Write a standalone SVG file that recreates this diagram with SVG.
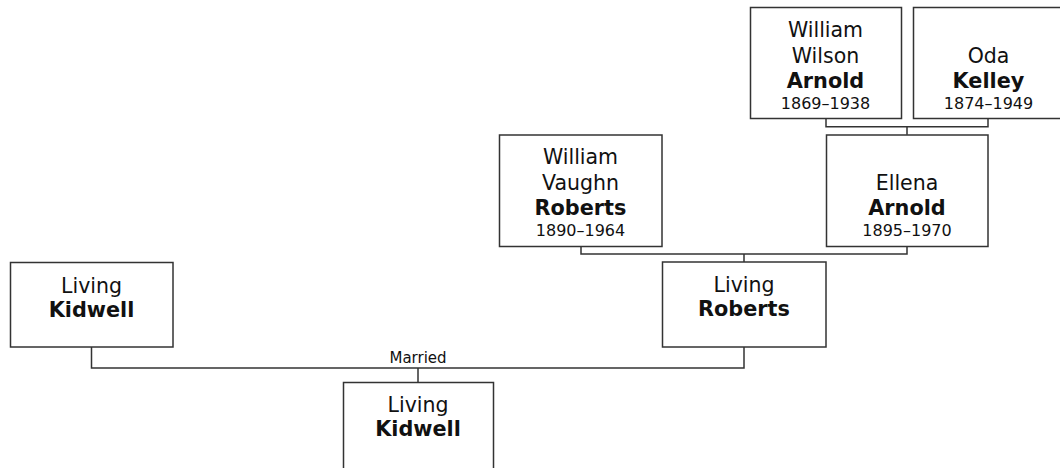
<svg xmlns="http://www.w3.org/2000/svg" width="1060" height="468" viewBox="0 0 1060 468">
<style>
.box{fill:#fff;stroke:#333;stroke-width:1.5}
.con{fill:none;stroke:#333;stroke-width:1.5}
text{font-family:"DejaVu Sans",Verdana,sans-serif;fill:#111;text-anchor:middle}
.n{font-size:20.5px}
.s{font-size:20.8px;font-weight:bold}
.d{font-size:16px}
.lbl{font-size:15px}
</style>
<rect width="1060" height="468" fill="#fff"/>
<g id="connectors">
<path class="con" d="M826,118.5V126.7H988V118.5M907,126.7V134.7"/>
<path class="con" d="M581,246.5V254H907V246.5M744,254V262"/>
<path class="con" d="M91.5,347V368H744V347M418,368V382"/>
<text class="lbl" x="418" y="363">Married</text>
</g>
<g id="william-wilson-arnold">
<rect class="box" x="750.5" y="7.5" width="151" height="111"/>
<text class="n" x="825.5" y="36.5">William</text>
<text class="n" x="825.5" y="63">Wilson</text>
<text class="s" x="825.5" y="88">Arnold</text>
<text class="d" x="825.5" y="109">1869–1938</text>
</g>
<g id="oda-kelley">
<rect class="box" x="913.5" y="7.5" width="151" height="111"/>
<text class="n" x="988.5" y="62.5">Oda</text>
<text class="s" x="988.5" y="88">Kelley</text>
<text class="d" x="988.5" y="109">1874–1949</text>
</g>
<g id="william-vaughn-roberts">
<rect class="box" x="499.5" y="135" width="162.5" height="111.5"/>
<text class="n" x="580.5" y="163.5">William</text>
<text class="n" x="580.5" y="190">Vaughn</text>
<text class="s" x="580.5" y="215">Roberts</text>
<text class="d" x="580.5" y="236">1890–1964</text>
</g>
<g id="ellena-arnold">
<rect class="box" x="826.5" y="135" width="161.5" height="111.5"/>
<text class="n" x="907" y="189.5">Ellena</text>
<text class="s" x="907" y="215">Arnold</text>
<text class="d" x="907" y="235.5">1895–1970</text>
</g>
<g id="living-kidwell-1">
<rect class="box" x="10.5" y="262.5" width="162.5" height="84.5"/>
<text class="n" x="91.5" y="292.5">Living</text>
<text class="s" x="91.5" y="316.5">Kidwell</text>
</g>
<g id="living-roberts">
<rect class="box" x="662.5" y="262" width="163.5" height="85"/>
<text class="n" x="744" y="292">Living</text>
<text class="s" x="744" y="316">Roberts</text>
</g>
<g id="living-kidwell-2">
<rect class="box" x="343.5" y="382.5" width="150" height="90"/>
<text class="n" x="418" y="412">Living</text>
<text class="s" x="418" y="436">Kidwell</text>
</g>
</svg>
